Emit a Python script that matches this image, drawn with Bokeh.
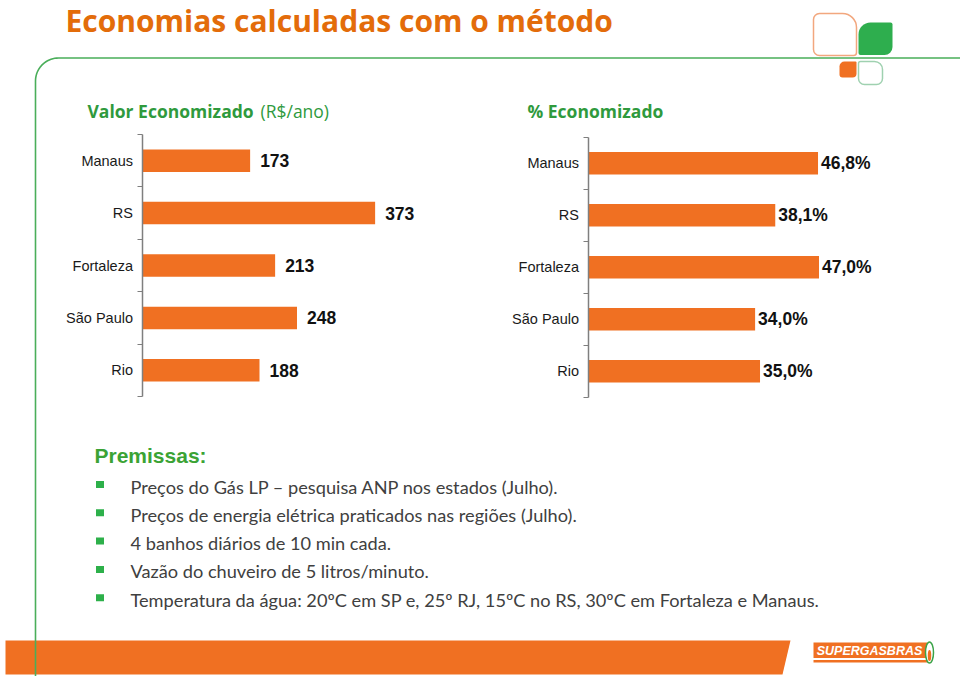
import numpy as np
from bokeh.plotting import figure
from bokeh.models import Range1d, LinearAxis, FixedTicker
from bokeh.core.properties import value
from bokeh.embed import file_html
from bokeh.resources import INLINE

# ---------------- data ----------------
cities = ["Manaus", "RS", "Fortaleza", "São Paulo", "Rio"]
saved_brl = [173, 373, 213, 248, 188]          # R$/ano
saved_pct = [46.8, 38.1, 47.0, 34.0, 35.0]      # %
title = "Economias calculadas com o método"
left_title_bold = "Valor Economizado"
left_title_reg = "(R$/ano)"
right_title = "% Economizado"
premises_title = "Premissas:"
premises = [
    "Preços do Gás LP – pesquisa ANP nos estados (Julho).",
    "Preços de energia elétrica praticados nas regiões (Julho).",
    "4 banhos diários de 10 min cada.",
    "Vazão do chuveiro de 5 litros/minuto.",
    "Temperatura da água: 20ºC em SP e, 25º RJ, 15ºC no RS, 30ºC em Fortaleza e Manaus.",
]

# ---------------- styles ----------------
ORANGE = "#F07022"
TITLE_ORANGE = "#E36C0A"
GREEN_TXT = "#2F9A3D"
GREEN_LINE = "#4AAE5A"
GREEN_BULLET = "#2DB04A"
TEXT_GRAY = "#404040"
AXIS_GRAY = "#7F7F7F"

W, H = 960, 676
X0, X1, Y0, Y1 = 0, W, 0, H   # page pixel coordinates

p = figure(width=W, height=H, x_range=Range1d(X0, X1), y_range=Range1d(Y1, Y0),
           output_backend="svg", toolbar_location=None, min_border=0,
           x_axis_type=None, y_axis_type=None)
p.grid.visible = False
p.outline_line_color = None
p.background_fill_color = "white"
p.border_fill_color = "white"


def lin_range(px0, k):
    """numeric x range so that value v sits at page pixel px0 + k*v"""
    return Range1d((X0 - px0) / k, (X1 - px0) / k)


def lin_yrange(py0, k):
    return Range1d((Y1 - py0) / k, (Y0 - py0) / k)


# chart geometry (page pixels)
L_AX, L_K, L_TOP, L_STEP = 141.5, 0.625, 134.0, 52.4
R_AX, R_K, R_TOP, R_STEP = 587.5, 4.915, 136.7, 52.0

p.extra_x_ranges = {"lx": lin_range(L_AX, L_K), "rx": lin_range(R_AX, R_K)}
p.extra_y_ranges = {"ly": lin_yrange(L_TOP, L_STEP), "ry": lin_yrange(R_TOP, R_STEP)}

n = len(cities)
centers = [i + 0.5 for i in range(n)]


def add_chart(vals, labels, xr, yr, ax_x, label_offset):
    p.hbar(y=centers, left=0, right=vals, height=0.43, x_range_name=xr, y_range_name=yr,
           fill_color=ORANGE, line_color=None)
    p.text(x=vals, y=centers, text=labels, x_range_name=xr, y_range_name=yr,
           x_offset=label_offset, text_baseline="middle", text_align="left",
           text_font=value("Liberation Sans"), text_font_style="bold",
           text_font_size="17.5px", text_color="#111111")
    ax = LinearAxis(y_range_name=yr, fixed_location=ax_x, bounds=(0, n),
                    ticker=FixedTicker(ticks=centers, minor_ticks=list(range(n + 1))),
                    major_label_overrides={c: name for c, name in zip(centers, cities)})
    ax.axis_line_color = AXIS_GRAY
    ax.axis_line_width = 1.5
    ax.major_tick_out = 0
    ax.major_tick_in = 0
    ax.minor_tick_out = 5
    ax.minor_tick_in = 0
    ax.minor_tick_line_color = AXIS_GRAY
    ax.minor_tick_line_width = 1.2
    ax.major_label_standoff = 4
    ax.major_label_text_font = "Liberation Sans"
    ax.major_label_text_font_size = "14.5px"
    ax.major_label_text_color = "#1A1A1A"
    p.add_layout(ax, "left")


add_chart(saved_brl, [str(v) for v in saved_brl], "lx", "ly", L_AX, 10)
add_chart(saved_pct, [f"{v:.1f}".replace(".", ",") + "%" for v in saved_pct], "rx", "ry", R_AX, 3)

# ---------------- decoration ----------------
# footer band
p.patch(x=[5, 790, 782, 5], y=[640, 640, 674, 674], fill_color=ORANGE, line_color=None)

# green frame line with rounded corner
r = 23
cx, cy = 35 + r, 57.5 + r
ang = np.linspace(np.pi / 2, np.pi, 20)
fx = [960, cx] + list(cx + r * np.cos(ang)) + [35, 35]
fy = [57.5, 57.5] + list(cy - r * np.sin(ang)) + [cy, 680]
p.line(fx, fy, line_color=GREEN_LINE, line_width=1.6)

# logo leaves top right
p.quad(left=813, right=856, top=13, bottom=55, fill_color=None, line_color="#F2A77E",
       line_width=1.5, border_radius=(6, 14, 3, 6))
p.quad(left=858, right=892, top=22, bottom=54.5, fill_color="#2EAE4E", line_color=None,
       border_radius=(12, 2, 8, 2))
p.quad(left=839, right=856, top=61, bottom=77, fill_color=ORANGE, line_color=None,
       border_radius=(5, 1, 4, 3))
p.quad(left=858, right=882, top=61, bottom=84, fill_color=None, line_color="#9FD1B0",
       line_width=1.5, border_radius=(2, 8, 6, 6))

# SuperGasbras logo bottom right
p.quad(left=813, right=927, top=642, bottom=657.5, fill_color=ORANGE, line_color=None)
p.quad(left=813, right=927, top=659.5, bottom=662, fill_color=ORANGE, line_color=None)
p.text(x=[869], y=[650], text=["SUPERGASBRAS"], text_align="center", text_baseline="middle",
       text_font=value("Liberation Sans"), text_font_style="bold italic",
       text_font_size="12.5px", text_color="white")
p.ellipse(x=[929], y=[652], width=8, height=21, fill_color="white", line_color="#3BA348",
          line_width=1.5)
p.ellipse(x=[929], y=[655], width=3.5, height=11, fill_color=ORANGE, line_color=None)

# ---------------- texts ----------------
p.text(x=[65], y=[20], text=[title], text_baseline="middle",
       text_font=value("Open Sans"), text_font_style="bold", text_font_size="30px",
       text_color=TITLE_ORANGE)
p.text(x=[87], y=[110], text=[left_title_bold], text_baseline="middle",
       text_font=value("Open Sans"), text_font_style="bold", text_font_size="17.5px",
       text_color=GREEN_TXT)
p.text(x=[260], y=[110], text=[left_title_reg], text_baseline="middle",
       text_font=value("Open Sans"), text_font_size="17.5px", text_color=GREEN_TXT)
p.text(x=[527], y=[110], text=[right_title], text_baseline="middle",
       text_font=value("Open Sans"), text_font_style="bold", text_font_size="17.5px",
       text_color=GREEN_TXT)

p.text(x=[94], y=[455], text=[premises_title], text_baseline="middle",
       text_font=value("Liberation Sans"), text_font_style="bold", text_font_size="21px",
       text_color="#3BA335")

line_y = [486 + 28.3 * i for i in range(len(premises))]
p.rect(x=[99.5] * len(premises), y=[yy - 2 for yy in line_y], width=8, height=7,
       fill_color=GREEN_BULLET, line_color=None)
p.text(x=[130] * len(premises), y=line_y, text=premises, text_baseline="middle",
       text_font=value("Lato"), text_font_size="18.2px", text_color=TEXT_GRAY)

open("out.html", "w").write(file_html(p, INLINE))
